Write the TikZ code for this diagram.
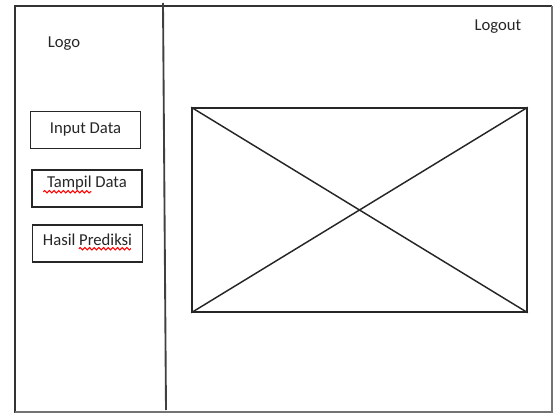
\documentclass[tikz,border=0pt]{standalone}
\usepackage{fontspec}
\setmainfont{Carlito}
\usepackage{tikz}
\usetikzlibrary{calc,decorations.pathmorphing}
\tikzset{menubox/.style={draw=black!85, line width=1.1pt, minimum width=82.5pt, minimum height=27.75pt, inner sep=0pt, text=black!85, text height=9pt}}
\tikzset{spell/.style={red, line width=0.8pt, decorate, decoration={snake, amplitude=0.9pt, segment length=3.5pt}}}

\begin{document}
\begin{tikzpicture} [x=0.75pt, y=-0.75pt, font=\fontsize{12.5}{15}\selectfont]
\useasboundingbox (0,0) rectangle (558,414);
% frame
\draw[black!80, line width=1.1pt] (552,412) -- (15,412) -- (15,6) -- (552,6);
\draw[black!55, line width=1.1pt] (552,6) -- (552,412) -- (15,412);
\coordinate (divtop) at (163,3);
\coordinate (divbot) at (166,410);
\draw[black!75, line width=1.4pt] (divtop) -- (divbot);
\node[text=black!85] (logo) at (64,44) {Logo};
\node[text=black!85] (logout) at (498,27) {Logout};
% menu
\node[menubox, text depth=4.5pt] (input) at (85.5,130) {Input Data};
\node[menubox, text depth=10.5pt] (tampil) at (87,188.5) {Tampil Data};
\node[menubox, text depth=6pt] (hasil) at (87.5,243.5) {Hasil Prediksi};
\draw[spell] ($(tampil.south west)+(12,-16)$) -- ($(tampil.south west)+(60,-16)$);
\draw[spell] ($(hasil.south west)+(47,-14)$) -- ($(hasil.south west)+(99,-14)$);
% content
\node[draw=black!85, line width=1.1pt, minimum width=251.25pt, minimum height=153pt, inner sep=0pt] (content) at (359.5,210) {};
\draw[black!85, line width=1.1pt] (content.north west) -- (content.south east);
\draw[black!85, line width=1.1pt] (content.south west) -- (content.north east);
\end{tikzpicture}
\end{document}
